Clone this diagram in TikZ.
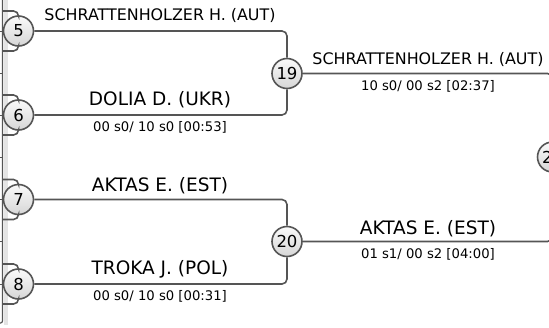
\documentclass[tikz,border=0pt]{standalone}
\usepackage{fontspec}
\setmainfont{DejaVu Sans}
\definecolor{linegray}{RGB}{85,85,85}
\definecolor{bandgray}{RGB}{228,228,228}

\begin{document}
\begin{tikzpicture}[x=1pt, y=-1pt,
  match/.style={circle, draw=linegray, line width=1.6pt, minimum size=30pt,
    inner sep=0pt, top color=gray!4, bottom color=gray!32,
    font=\fontsize{16.5}{16.5}\selectfont},
  link/.style={draw=linegray, line width=1.6pt, rounded corners=5pt},
  bigname/.style={anchor=base, font=\fontsize{18.5}{18.5}\selectfont},
  smallname/.style={anchor=base, font=\fontsize{15.9}{15.9}\selectfont},
  score/.style={anchor=base, font=\fontsize{13.2}{13.2}\selectfont}]
  \useasboundingbox (0,0) rectangle (549,327);
  \clip (0,0) rectangle (549,327);

  % left strip of the cut-off earlier round
  \fill[bandgray] (3.5,0) rectangle (8,325);
  \draw[linegray, line width=1.2pt, rounded corners=2pt] (2.5,0) -- (2.5,323) -- (0,323);
  \foreach \y in {31,73,115,157,199,241,284}
    \draw[linegray, line width=1pt] (0,\y) -- (2.5,\y);

  % match circles
  \node[match] (m5)  at (18.5,31)  {5};
  \node[match] (m6)  at (18.5,115) {6};
  \node[match] (m7)  at (18.5,199.5) {7};
  \node[match] (m8)  at (18.5,284) {8};
  \node[match] (m19) at (287,73.5)  {19};
  \node[match] (m20) at (287,241.5) {20};
  \node[match] (m2x) at (552.5,157) {2\phantom{0}};

  % ends of the earlier round
  \foreach \m/\y in {5/31,6/115,7/199.5,8/284} {
    \coordinate (in\m a) at (3,\y-20);
    \coordinate (in\m b) at (3,\y+20);
    \draw[link] (in\m a) -| (m\m);
    \draw[link] (in\m b) -| (m\m);
  }

  % brackets
  \draw[link] (m5)  -| (m19);
  \draw[link] (m6)  -| (m19);
  \draw[link] (m7)  -| (m20);
  \draw[link] (m8)  -| (m20);
  \draw[link] (m19) -| (m2x);
  \draw[link] (m20) -| (m2x);

  % names and results
  \node[smallname] (n5)  at (160,20.7)  {SCHRATTENHOLZER H. (AUT)};
  \node[bigname]   (n6)  at (160,105)   {DOLIA D. (UKR)};
  \node[score]     (s6)  at (160,131)   {00 s0/ 10 s0 [00:53]};
  \node[bigname]   (n7)  at (160,191)   {AKTAS E. (EST)};
  \node[bigname]   (n8)  at (160,274.3) {TROKA J. (POL)};
  \node[score]     (s8)  at (160,300)   {00 s0/ 10 s0 [00:31]};
  \node[smallname] (n19) at (428,64.7)  {SCHRATTENHOLZER H. (AUT)};
  \node[score]     (s19) at (428,90)    {10 s0/ 00 s2 [02:37]};
  \node[bigname]   (n20) at (428,234.3) {AKTAS E. (EST)};
  \node[score]     (s20) at (428,258.3) {01 s1/ 00 s2 [04:00]};
\end{tikzpicture}
\end{document}
